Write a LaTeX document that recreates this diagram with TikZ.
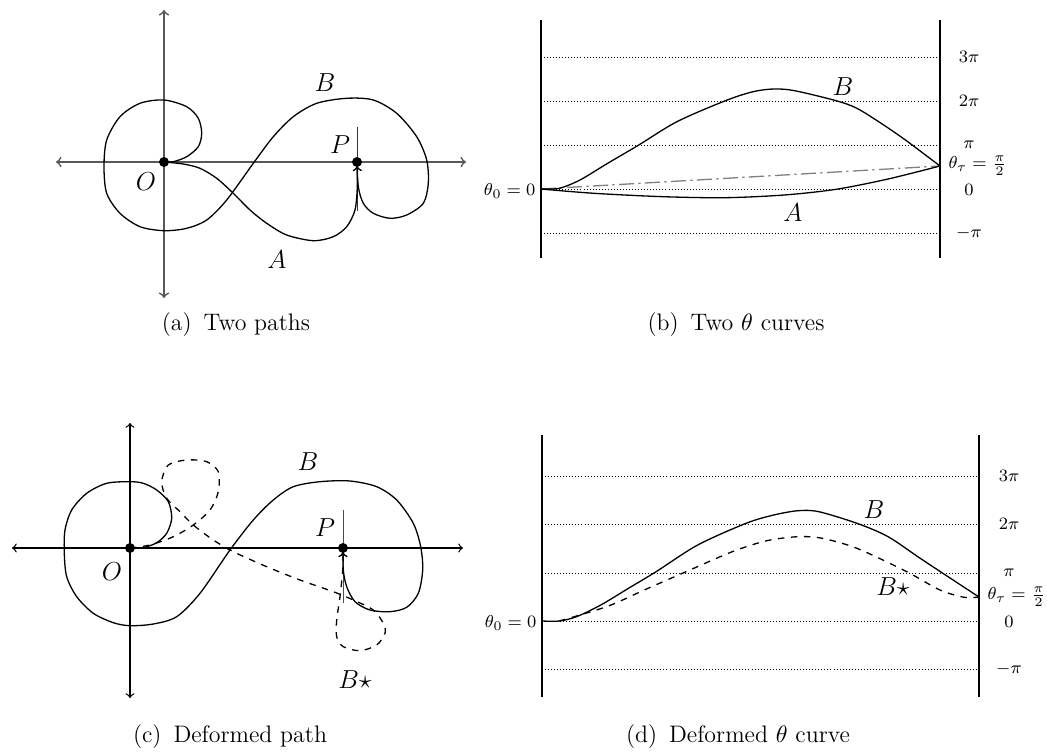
\documentclass[tikz,border=0pt]{standalone}
\begin{document}
\begin{tikzpicture}[x=0.0162cm, y=-0.0162cm,
    curve/.style={semithick, smooth},
    axis/.style={<->, thick, black!65},
    level/.style={densely dotted, thin},
    wall/.style={very thick},
    lbl/.style={font=\large},
    tick/.style={font=\footnotesize},
    subcap/.style={font=\fontsize{11}{13}\selectfont}]
  \useasboundingbox (0,0) rectangle (1047,752);

  % ---- (a) Dos caminos ----
  \coordinate (Oa) at (164,162);
  \coordinate (Pa) at (357,162);
  \draw[axis] (56,162) -- (466,162);
  \draw[axis] (164,10) -- (164,298);
  \draw[black!80] (357,127) -- (357,211);

  % camino B
  \draw[curve, ->, shorten >=2pt] plot coordinates {(Oa) (173.3,161.7) (186.7,156.7)
    (198.3,146.7) (201.7,133.3) (198.3,118.3) (186.7,106.7) (164,100) (140,103.3)
    (120,116.7) (106.7,140) (104,166.7) (106.7,193.3) (120,213.3) (140,226.7)
    (164,230.7) (186.7,228.3) (206.7,220) (226.7,200) (253.3,163.3) (273.3,136.7)
    (293.3,116.7) (316.7,103.3) (346.7,98.3) (373.3,100) (396.7,113.3) (416.7,136.7)
    (426.7,160) (428.3,183.3) (423.3,203.3) (406.7,215) (390,218.3) (373.3,213.3)
    (363.3,203.3) (358.3,186.7) (Pa)};
  % camino A
  \draw[curve, ->, shorten >=2pt] plot coordinates {(Oa) (183.3,164) (200,168.3)
    (216.7,178.3) (233.3,193.3) (250,210) (266.7,223.3) (286.7,235) (313.3,240.7)
    (333.3,236.7) (346.7,226.7) (355,210) (357.3,186.7) (Pa)};

  \fill (Oa) circle (2.3pt);
  \fill (Pa) circle (2.3pt);
  \node[lbl] (labOa) at (146,182) {$O$};
  \node[lbl] (labPa) at (340,145) {$P$};
  \node[lbl] (labBa) at (325,83) {$B$};
  \node[lbl] (labAa) at (277,260) {$A$};
  \node[subcap] (capa) at (236,325) {(a)\enspace Two paths};

  % ---- (b) Dos curvas theta ----
  \draw[level] (541,57) -- (940,57);
  \draw[level] (541,101) -- (940,101);
  \draw[level] (541,145) -- (940,145);
  \draw[level] (541,189) -- (940,189);
  \draw[level] (541,233) -- (940,233);
  \draw[wall] (541,20) -- (541,258);
  \draw[wall] (940,20) -- (940,258);
  \coordinate (T0b) at (541,189);
  \coordinate (Ttb) at (940,166);

  \draw[semithick, gray, dash pattern=on 7pt off 2pt on 1pt off 2pt] (T0b) -- (Ttb);
  \draw[curve] plot coordinates {(T0b) (559.2,188.3) (580,180) (607.7,163.3)
    (638.8,145) (676.9,121.7) (725.4,100.7) (753.1,91.7) (773.8,89) (794.6,90.7)
    (836.1,100.7) (856.9,108.3) (881.1,123.3) (905.4,140) (Ttb)};
  \draw[curve] plot coordinates {(T0b) (593.8,193.3) (663.1,196.7) (725.4,197.7)
    (784.2,195) (836.1,189.3) (888.1,179) (Ttb)};

  \node[lbl] (labBb) at (843,87) {$B$};
  \node[lbl] (labAb) at (793,213) {$A$};
  \node[tick] (tb3) at (969,57) {$3\pi$};
  \node[tick] (tb2) at (969,101) {$2\pi$};
  \node[tick] (tb1) at (969,145) {$\pi$};
  \node[tick] (tb0) at (969,190) {$0$};
  \node[tick] (tbm) at (969,233) {$-\pi$};
  \node[tick, anchor=west, inner sep=1pt] (ttb) at (946,166) {$\theta_\tau = \frac{\pi}{2}$};
  \node[tick, anchor=east, inner sep=1pt] (t0b) at (538,191) {$\theta_0 = 0$};
  \node[subcap] (capb) at (736,325) {(b)\enspace Two $\theta$ curves};

  % ---- (c) Camino deformado ----
  \coordinate (Oc) at (130,548);
  \coordinate (Pc) at (343,548);
  \draw[<->, semithick] (12,548) -- (463,548);
  \draw[<->, semithick] (130,423) -- (130,698);
  \draw[black!70] (343,510) -- (343,603);

  % camino B
  \draw[curve, ->, shorten >=2pt] plot coordinates {(Oc) (143.3,547.7) (156.7,542.7)
    (166.7,533.3) (171.7,518.3) (168.3,501.7) (156.7,490) (143.3,483.3) (130,481.7)
    (106.7,483.3) (86.7,493.3) (71.7,510) (65,530) (64.3,553.3) (66.7,576.7)
    (76.7,596.7) (93.3,613.3) (113.3,622.7) (130,625.7) (153.3,624) (176.7,616.7)
    (200,593.3) (230,550) (253.3,520) (273.3,500) (293.3,486.7) (320,481.7) (350,481)
    (376.7,486.7) (396.7,500) (413.3,523.3) (420.7,546.7) (422.7,570) (418.3,593.3)
    (406.7,607.3) (390,611.7) (370,610) (355,601.7) (346.7,586.7) (343.3,570) (Pc)};
  % camino B deformado
  \draw[curve, dashed, ->, shorten >=2pt] plot coordinates {(Oc) (150,545)
    (173.3,536.7) (193.3,525) (210,510) (218.3,491.7) (218.3,471.7) (206.7,461.7)
    (186.7,460) (168.3,465) (161.7,481.7) (166.7,498.3) (180,511.7) (193.3,525)
    (213.3,540) (233.3,551.7) (266.7,566.7) (300,580) (333.3,591.7) (353.3,600)
    (373.3,610) (383.3,623.3) (385,633.3) (376.7,645) (360,650.7) (343.3,646.7)
    (336.7,636.7) (336.7,620) (340,596.7) (342.7,570) (Pc)};

  \fill (Oc) circle (2.3pt);
  \fill (Pc) circle (2.3pt);
  \node[lbl] (labOc) at (112,572) {$O$};
  \node[lbl] (labPc) at (325,528) {$P$};
  \node[lbl] (labBc) at (308,462) {$B$};
  \node[lbl] (labBsc) at (355,680) {$B\star$};
  \node[subcap] (capc) at (230,737) {(c)\enspace Deformed path};

  % ---- (d) Curva theta deformada ----
  \draw[level] (542,476) -- (979,476);
  \draw[level] (542,524) -- (979,524);
  \draw[level] (542,573) -- (979,573);
  \draw[level] (542,621) -- (979,621);
  \draw[level] (542,669) -- (979,669);
  \draw[wall] (542,435) -- (542,697);
  \draw[wall] (979,435) -- (979,697);
  \coordinate (T0d) at (542,621);
  \coordinate (Ttd) at (979,597);

  \draw[curve] plot coordinates {(T0d) (559.2,621) (576.5,616.7) (600.8,605)
    (628.5,588.3) (656.1,571.7) (697.7,545) (746.1,523.3) (773.8,515) (798.1,510.7)
    (818.8,511.7) (856.9,523.3) (888.1,536.7) (922.7,560) (Ttd)};
  \draw[curve, dashed] plot coordinates {(559.2,621) (580,615) (611.1,605)
    (645.8,589.3) (683.8,572.7) (732.3,551.7) (766.9,540.7) (798.1,536.7) (822.3,538.3)
    (856.9,548.3) (905.4,571) (940,590) (964.2,597.3) (Ttd)};

  \node[lbl] (labBd) at (874,510) {$B$};
  \node[lbl] (labBsd) at (893,587) {$B\star$};
  \node[tick] (td3) at (1009,476) {$3\pi$};
  \node[tick] (td2) at (1009,524) {$2\pi$};
  \node[tick] (td1) at (1009,573) {$\pi$};
  \node[tick] (td0) at (1009,622) {$0$};
  \node[tick] (tdm) at (1009,669) {$-\pi$};
  \node[tick, anchor=west, inner sep=1pt] (ttd) at (985,597) {$\theta_\tau = \frac{\pi}{2}$};
  \node[tick, anchor=east, inner sep=1pt] (t0d) at (539,623) {$\theta_0 = 0$};
  \node[subcap] (capd) at (738,737) {(d)\enspace Deformed $\theta$ curve};
\end{tikzpicture}
\end{document}
